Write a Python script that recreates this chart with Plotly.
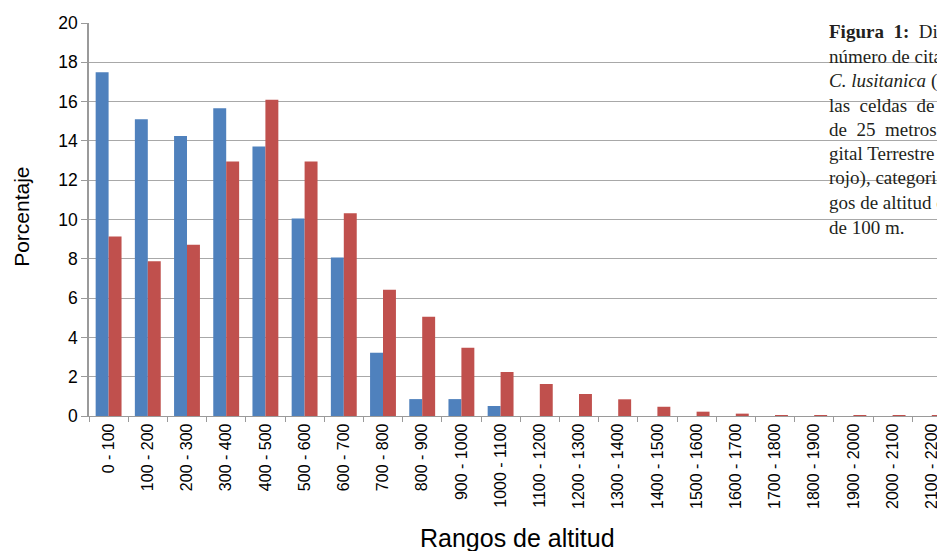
import plotly.graph_objects as go

categories = ["0 - 100", "100 - 200", "200 - 300", "300 - 400", "400 - 500", "500 - 600",
              "600 - 700", "700 - 800", "800 - 900", "900 - 1000", "1000 - 1100",
              "1100 - 1200", "1200 - 1300", "1300 - 1400", "1400 - 1500", "1500 - 1600",
              "1600 - 1700", "1700 - 1800", "1800 - 1900", "1900 - 2000", "2000 - 2100",
              "2100 - 2200"]
citas = [17.5, 15.1, 14.25, 15.66, 13.71, 10.05, 8.07, 3.22, 0.86, 0.86, 0.51,
         0, 0, 0, 0, 0, 0, 0, 0, 0, 0, 0]
mdt = [9.13, 7.88, 8.71, 12.95, 16.1, 12.95, 10.32, 6.42, 5.05, 3.47, 2.24,
       1.63, 1.12, 0.85, 0.47, 0.22, 0.12, 0.05, 0.04, 0.04, 0.03, 0.03]
y_ticks = [0, 2, 4, 6, 8, 10, 12, 14, 16, 18, 20]

caption_lines = [
    "<b>Figura  1:</b>  Distribución del",
    "número de citas de",
    "<i>C. lusitanica</i> (azul) y de",
    "las  celdas  de la malla",
    "de  25  metros del Modelo Di-",
    "gital Terrestre (en",
    "rojo), categorizados en ran-",
    "gos de altitud con intervalos",
    "de 100 m.",
]

OFF = 8  # page body margin
W, H = 945 - OFF, 551 - OFF
L, T = 89 - OFF, 23 - OFF
plot_h = 393.3
B = H - T - plot_h
plot_w = W - L

fig = go.Figure()
fig.add_bar(x=categories, y=citas, marker=dict(color="#4F81BD", line=dict(width=0)),
            name="Citas")
fig.add_bar(x=categories, y=mdt, marker=dict(color="#C0504D", line=dict(width=0)),
            name="MDT")

fig.update_layout(
    width=W, height=H, autosize=False,
    margin=dict(l=L, r=0, t=T, b=B, pad=0),
    paper_bgcolor="white", plot_bgcolor="white",
    barmode="group", bargap=0.34, bargroupgap=0,
    showlegend=False,
    font=dict(family="Liberation Sans, Arial, sans-serif", color="#000000"),
)
fig.update_xaxes(
    type="category", range=[-0.5, -0.5 + plot_w / 39.2],
    tickangle=-90, tickfont=dict(size=16, color="#000"),
    ticks="outside", tickson="boundaries", ticklen=5, tickcolor="#9a9a9a", tickwidth=1.3,
    showline=True, linecolor="#9a9a9a", linewidth=1.3,
    showgrid=False,
)
fig.update_yaxes(
    range=[0, 20], tickvals=y_ticks, tickfont=dict(size=17.5, color="#000"),
    ticks="outside", ticklen=6, tickcolor="#9a9a9a", tickwidth=1.3,
    showline=True, linecolor="#9a9a9a", linewidth=1.5,
    showgrid=True, gridcolor="#a8a8a8", gridwidth=1.4,
    zeroline=False,
)


def px_x(px):
    return (px - OFF - L) / plot_w


def px_y(py):
    return (T + plot_h - (py - OFF)) / plot_h


# white box behind the caption
fig.add_shape(type="rect", xref="paper", yref="paper",
              x0=px_x(795), x1=1.05, y0=px_y(275), y1=1.1,
              fillcolor="white", line=dict(width=0), layer="between")

for i, line in enumerate(caption_lines):
    fig.add_annotation(
        text=line, xref="paper", yref="paper",
        x=px_x(827), y=px_y(32 + 24.4 * i), xanchor="left", yanchor="middle",
        showarrow=False, align="left",
        font=dict(family="Liberation Serif, DejaVu Serif, serif", size=19, color="#231f20"),
    )

fig.add_annotation(text="Porcentaje", xref="paper", yref="paper",
                   x=px_x(22), y=px_y(217), textangle=-90, showarrow=False,
                   xanchor="center", yanchor="middle", font=dict(size=21, color="#000"))
fig.add_annotation(text="Rangos de altitud", xref="paper", yref="paper",
                   x=px_x(518), y=px_y(538), showarrow=False,
                   xanchor="center", yanchor="middle", font=dict(size=25, color="#000"))

fig.write_html("out.html")
